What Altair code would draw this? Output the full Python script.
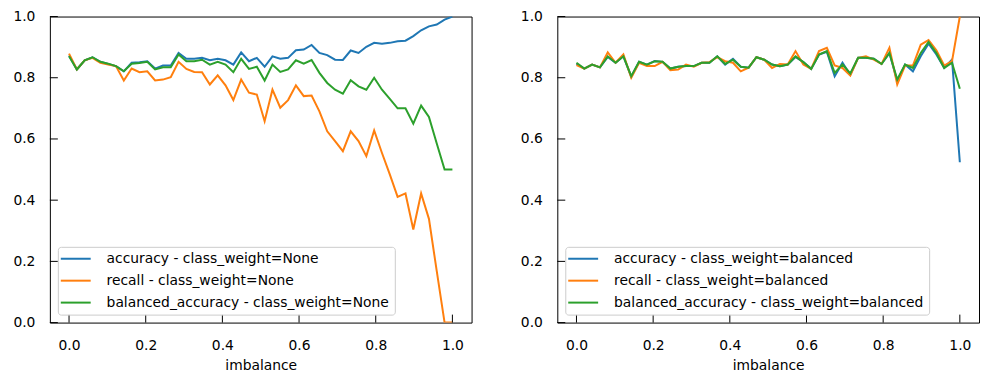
import altair as alt
import pandas as pd

imbalance = [0.0, 0.0204, 0.0408, 0.0612, 0.0816, 0.1020, 0.1224, 0.1429, 0.1633, 0.1837,
             0.2041, 0.2245, 0.2449, 0.2653, 0.2857, 0.3061, 0.3265, 0.3469, 0.3673, 0.3878,
             0.4082, 0.4286, 0.4490, 0.4694, 0.4898, 0.5102, 0.5306, 0.5510, 0.5714, 0.5918,
             0.6122, 0.6327, 0.6531, 0.6735, 0.6939, 0.7143, 0.7347, 0.7551, 0.7755, 0.7959,
             0.8163, 0.8367, 0.8571, 0.8776, 0.8980, 0.9184, 0.9388, 0.9592, 0.9796, 1.0]

# class_weight=None
acc_none = [0.873, 0.827, 0.857, 0.867, 0.852, 0.845, 0.838, 0.821, 0.849, 0.851,
            0.854, 0.830, 0.840, 0.840, 0.881, 0.862, 0.862, 0.865, 0.857, 0.862,
            0.857, 0.843, 0.883, 0.854, 0.865, 0.836, 0.870, 0.862, 0.865, 0.890,
            0.892, 0.907, 0.881, 0.874, 0.859, 0.858, 0.889, 0.881, 0.901, 0.914,
            0.911, 0.914, 0.919, 0.921, 0.936, 0.955, 0.968, 0.974, 0.990, 1.000]
rec_none = [0.879, 0.827, 0.857, 0.865, 0.849, 0.843, 0.838, 0.791, 0.830, 0.818,
            0.821, 0.791, 0.794, 0.802, 0.852, 0.829, 0.819, 0.818, 0.778, 0.808,
            0.775, 0.727, 0.794, 0.751, 0.745, 0.658, 0.761, 0.702, 0.727, 0.775,
            0.740, 0.742, 0.690, 0.625, 0.593, 0.560, 0.625, 0.593, 0.544, 0.628,
            0.554, 0.484, 0.411, 0.422, 0.304, 0.422, 0.339, 0.168, 0.000, 0.000]
bal_none = [0.870, 0.827, 0.857, 0.867, 0.852, 0.846, 0.838, 0.821, 0.846, 0.848,
            0.852, 0.827, 0.834, 0.834, 0.876, 0.854, 0.854, 0.859, 0.843, 0.852,
            0.843, 0.818, 0.862, 0.829, 0.836, 0.791, 0.843, 0.819, 0.827, 0.857,
            0.846, 0.858, 0.816, 0.783, 0.761, 0.748, 0.792, 0.772, 0.761, 0.800,
            0.761, 0.731, 0.700, 0.700, 0.650, 0.709, 0.672, 0.585, 0.500, 0.500]

# class_weight=balanced
acc_bal = [0.845, 0.830, 0.843, 0.834, 0.868, 0.849, 0.870, 0.803, 0.852, 0.843,
           0.855, 0.852, 0.830, 0.836, 0.838, 0.838, 0.849, 0.849, 0.870, 0.843,
           0.862, 0.836, 0.833, 0.867, 0.859, 0.843, 0.838, 0.843, 0.868, 0.851,
           0.829, 0.876, 0.885, 0.805, 0.849, 0.810, 0.865, 0.865, 0.862, 0.845,
           0.881, 0.789, 0.843, 0.821, 0.870, 0.911, 0.876, 0.832, 0.859, 0.524]
rec_bal = [0.841, 0.830, 0.843, 0.834, 0.883, 0.849, 0.876, 0.800, 0.849, 0.838,
           0.838, 0.852, 0.825, 0.827, 0.843, 0.836, 0.849, 0.851, 0.867, 0.854,
           0.849, 0.821, 0.833, 0.867, 0.859, 0.832, 0.845, 0.843, 0.887, 0.843,
           0.829, 0.887, 0.898, 0.840, 0.832, 0.807, 0.865, 0.870, 0.859, 0.845,
           0.898, 0.778, 0.840, 0.840, 0.908, 0.923, 0.890, 0.840, 0.854, 1.000]
bal_bal = [0.849, 0.830, 0.843, 0.834, 0.870, 0.849, 0.870, 0.805, 0.852, 0.843,
           0.854, 0.852, 0.830, 0.836, 0.838, 0.838, 0.849, 0.849, 0.870, 0.845,
           0.859, 0.836, 0.833, 0.867, 0.859, 0.843, 0.838, 0.843, 0.870, 0.851,
           0.829, 0.876, 0.887, 0.816, 0.843, 0.814, 0.865, 0.865, 0.862, 0.845,
           0.881, 0.794, 0.843, 0.832, 0.881, 0.917, 0.881, 0.832, 0.849, 0.764]

labels_none = ["accuracy - class_weight=None", "recall - class_weight=None",
               "balanced_accuracy - class_weight=None"]
labels_bal = ["accuracy - class_weight=balanced", "recall - class_weight=balanced",
              "balanced_accuracy - class_weight=balanced"]
colors = ["#1f77b4", "#ff7f0e", "#2ca02c"]
ticks = [0.0, 0.2, 0.4, 0.6, 0.8, 1.0]

W, H = 423, 307
FONT = "DejaVu Sans"
FS = 13.9


def panel(series, labels):
    rows = []
    for lab, vals in zip(labels, series):
        for x, v in zip(imbalance, vals):
            rows.append({"imbalance": x, "value": v, "series": lab})
    df = pd.DataFrame(rows)
    xscale = alt.Scale(domain=[-0.05, 1.05], nice=False, zero=False)
    yscale = alt.Scale(domain=[0, 1], nice=False)
    xaxis = alt.Axis(values=ticks, format=".1f", title="imbalance",
                     ticks=False, domain=False, grid=False,
                     labelPadding=16, titlePadding=6)
    yaxis = alt.Axis(values=ticks, format=".1f", title=None,
                     ticks=False, domain=False, grid=False,
                     labelPadding=15, minExtent=41, maxExtent=41)
    lines = alt.Chart(df).mark_line(strokeWidth=2, clip=True).encode(
        x=alt.X("imbalance:Q", scale=xscale, axis=xaxis, title="imbalance"),
        y=alt.Y("value:Q", scale=yscale, axis=yaxis, title=None),
        color=alt.Color("series:N", sort=labels,
                        scale=alt.Scale(domain=labels, range=colors),
                        legend=alt.Legend(title=None, orient="bottom-left", offset=8,
                                          symbolType="M-3,0H3", symbolSize=100,
                                          symbolOffset=6,
                                          symbolStrokeWidth=2, labelOffset=24,
                                          labelLimit=0,
                                          labelFont=FONT, labelFontSize=FS,
                                          labelColor="black", padding=5,
                                          rowPadding=7, strokeColor="#cccccc",
                                          cornerRadius=3,
                                          fillColor="rgba(255,255,255,0.8)")),
    )
    tdf = pd.DataFrame({"t": ticks})
    xt = alt.Chart(tdf).mark_rule(color="black", strokeWidth=1).encode(
        x=alt.X("t:Q", scale=xscale, axis=xaxis, title="imbalance"),
        y=alt.value(H), y2=alt.value(H - 8))
    yt = alt.Chart(tdf).mark_rule(color="black", strokeWidth=1).encode(
        y=alt.Y("t:Q", scale=yscale, axis=yaxis, title=None),
        x=alt.value(0), x2=alt.value(8))
    return alt.layer(lines, xt, yt).properties(width=W, height=H)


left = panel([acc_none, rec_none, bal_none], labels_none)
right = panel([acc_bal, rec_bal, bal_bal], labels_bal)

chart = alt.hconcat(left, right, spacing=43).resolve_scale(
    color="independent").resolve_legend(color="independent").properties(
    padding={"left": 0, "top": 0, "right": 0, "bottom": 0}
).configure_view(stroke="black", strokeWidth=1).configure_axis(
    labelFont=FONT, labelFontSize=FS, labelColor="black",
    titleFont=FONT, titleFontSize=FS, titleColor="black", titleFontWeight="normal"
)

chart.save("out.html", embed_options={"renderer": "svg", "actions": False})
